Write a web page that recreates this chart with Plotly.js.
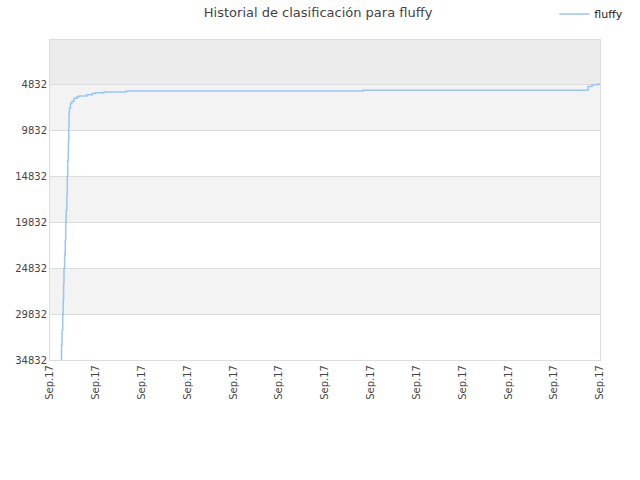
<!DOCTYPE html>
<html>
<head>
<meta charset="utf-8">
<script src="https://cdn.plot.ly/plotly-3.0.1.min.js"></script>
<style>
  html, body { margin: 0; padding: 0; background: #ffffff; }
  #chart { width: 640px; height: 480px; }
</style>
</head>
<body>
<div id="chart"></div>
<script>
// Ranking history (step line). x in tick units (all ticks read "Sep.17").
const stepX = [0.233, 0.251, 0.262, 0.277, 0.288, 0.297, 0.305, 0.319, 0.332, 0.343,
  0.353, 0.367, 0.377, 0.386, 0.399, 0.404, 0.41, 0.415, 0.425, 0.447, 0.48, 0.524,
  0.589, 0.633, 0.801, 0.923, 0.982, 1.178, 1.658, 6.829, 11.738, 11.825, 11.956, 12];
const rank = [34832, 33200, 31570, 29832, 28310, 26460, 24832, 23310, 21790, 19830,
  18530, 16900, 14832, 13090, 12010, 10920, 9510, 7980, 7440, 6900, 6680, 6350,
  6190, 6100, 5950, 5810, 5730, 5670, 5560, 5480, 5050, 4880, 4780, 4780];

const tickPos = [0, 1, 2, 3, 4, 5, 6, 7, 8, 9, 10, 11, 12];
const tickLabels = tickPos.map(() => "Sep.17");
const rankTicks = [4832, 9832, 14832, 19832, 24832, 29832, 34832];

// Background bands between rank ticks
const bandEdges = [0, 4832, 9832, 14832, 19832, 24832, 29832, 34832];
const bandColors = ["#ececec", "#f3f3f3", "#ffffff", "#f3f3f3", "#ffffff", "#f3f3f3", "#ffffff"];

const shapes = bandColors.map((c, i) => ({
  type: "rect",
  xref: "paper",
  yref: "y",
  x0: 0,
  x1: 1,
  y0: bandEdges[i],
  y1: bandEdges[i + 1],
  fillcolor: c,
  line: { width: 0 },
  layer: "below",
}));

const traces = [
  {
    type: "scatter",
    mode: "lines",
    name: "fluffy",
    x: stepX,
    y: rank,
    line: { color: "#99c6f3", width: 1.5, shape: "hv" },
  },
];

const layout = {
  width: 640,
  height: 480,
  paper_bgcolor: "#ffffff",
  plot_bgcolor: "#ffffff",
  margin: { l: 50, r: 40, t: 40, b: 120, autoexpand: false },
  font: { family: "DejaVu Sans, sans-serif", color: "#444444", size: 10 },
  title: {
    text: "Historial de clasificación para fluffy",
    x: 0.497,
    xanchor: "center",
    y: 0.975,
    yanchor: "middle",
    font: { size: 13, color: "#444444" },
  },
  showlegend: true,
  legend: {
    x: 0.917,
    xanchor: "left",
    y: 1.081,
    yanchor: "middle",
    font: { size: 11, color: "#222222" },
    bgcolor: "rgba(0,0,0,0)",
  },
  xaxis: {
    range: [0, 12],
    tickmode: "array",
    tickvals: tickPos,
    ticktext: tickLabels,
    tickangle: -90,
    showgrid: false,
    zeroline: false,
    showline: true,
    linecolor: "#dddddd",
    mirror: true,
    ticks: "",
    tickfont: { size: 10, color: "#444444" },
  },
  yaxis: {
    range: [34832, 0],
    tickmode: "array",
    tickvals: rankTicks,
    ticktext: rankTicks.map(String),
    showgrid: true,
    gridcolor: "#dddddd",
    zeroline: false,
    showline: true,
    linecolor: "#dddddd",
    mirror: true,
    ticks: "",
    tickfont: { size: 10, color: "#444444" },
  },
  shapes: shapes,
};

Plotly.newPlot("chart", traces, layout, { displayModeBar: false, staticPlot: true });
</script>
</body>
</html>
